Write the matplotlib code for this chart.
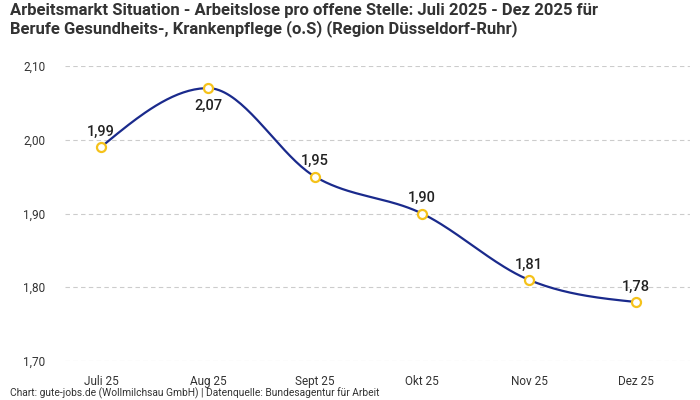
import matplotlib.pyplot as plt
import numpy as np

months = ["Juli 25", "Aug 25", "Sept 25", "Okt 25", "Nov 25", "Dez 25"]
values = [1.99, 2.07, 1.95, 1.90, 1.81, 1.78]
labels = ["1,99", "2,07", "1,95", "1,90", "1,81", "1,78"]
yticks = [1.70, 1.80, 1.90, 2.00, 2.10]

plt.rcParams['font.family'] = ['Roboto', 'DejaVu Sans']


def monotone(x, y, n=40):
    # monotone cubic (d3 curveMonotoneX style) for a smooth line
    x = np.asarray(x, float)
    y = np.asarray(y, float)
    h = np.diff(x)
    s = np.diff(y) / h
    t = np.zeros(len(x))
    for i in range(1, len(x) - 1):
        if s[i - 1] * s[i] <= 0:
            t[i] = 0
        else:
            p = (s[i - 1] * h[i] + s[i] * h[i - 1]) / (h[i - 1] + h[i])
            t[i] = (np.sign(s[i - 1]) + np.sign(s[i])) * min(abs(s[i - 1]), abs(s[i]), 0.5 * abs(p))
    t[0] = (3 * s[0] - t[1]) / 2
    t[-1] = (3 * s[-1] - t[-2]) / 2
    xs, ys = [], []
    for i in range(len(x) - 1):
        u = np.linspace(0, 1, n)
        h00 = 2 * u**3 - 3 * u**2 + 1
        h10 = u**3 - 2 * u**2 + u
        h01 = -2 * u**3 + 3 * u**2
        h11 = u**3 - u**2
        xs.extend(x[i] + u * h[i])
        ys.extend(h00 * y[i] + h10 * h[i] * t[i] + h01 * y[i + 1] + h11 * h[i] * t[i + 1])
    return np.array(xs), np.array(ys)


fig = plt.figure(figsize=(7, 4), dpi=100)
ax = fig.add_axes([65 / 700, 1 - 361 / 400, 625 / 700, 295 / 400])

xpos = np.arange(len(months))
sx, sy = monotone(xpos, values)
ax.plot(sx, sy, color="#1a2a8c", lw=1.6, zorder=2)
ax.plot(xpos, values, "o", ms=6.5, mfc="white", mec="#f5c21b", mew=1.6, zorder=3)

for i, (v, lab) in enumerate(zip(values, labels)):
    if i == 1:
        ax.annotate(lab, (i, v), xytext=(0, -8), textcoords="offset points",
                    ha="center", va="top", fontsize=10.5, fontweight="medium", color="#222222")
    else:
        ax.annotate(lab, (i, v), xytext=(0, 6), textcoords="offset points",
                    ha="center", va="bottom", fontsize=10.5, fontweight="medium", color="#222222")

ax.set_xlim(-0.336, 5.505)
ax.set_ylim(1.70, 2.10)
ax.set_yticks(yticks)
ax.set_yticklabels([f"{t:.2f}".replace(".", ",") for t in yticks])
ax.set_xticks(xpos)
ax.set_xticklabels(months)
ax.tick_params(length=0, labelsize=8.5, colors="#333333")
ax.tick_params(axis="x", pad=10)
ax.tick_params(axis="y", pad=14)
ax.grid(axis="y", color="#cccccc", ls=(0, (4, 3)), lw=0.8)
for sp in ax.spines.values():
    sp.set_visible(False)

fig.text(10 / 700, 1 - 3 / 400,
         "Arbeitsmarkt Situation - Arbeitslose pro offene Stelle: Juli 2025 - Dez 2025 für\n"
         "Berufe Gesundheits-, Krankenpflege (o.S) (Region Düsseldorf-Ruhr)",
         ha="left", va="top", fontsize=12, fontweight="bold", color="#333333", linespacing=1.15)
fig.text(10 / 700, 1 - 393 / 400,
         "Chart: gute-jobs.de (Wollmilchsau GmbH) | Datenquelle: Bundesagentur für Arbeit",
         ha="left", va="center", fontsize=7.4, color="#333333")

fig.savefig("out.png", dpi=100)
